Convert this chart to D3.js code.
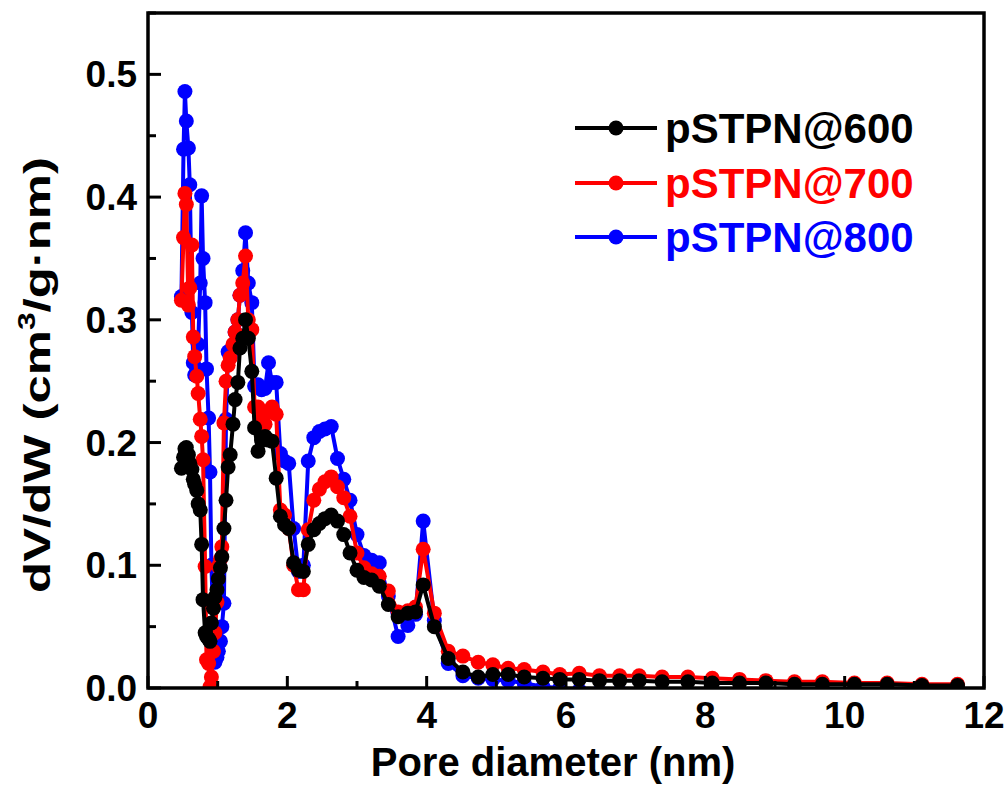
<!DOCTYPE html>
<html>
<head>
<meta charset="utf-8">
<script src="https://cdn.jsdelivr.net/npm/d3@7/dist/d3.min.js"></script>
<style>
  html, body { margin: 0; padding: 0; background: #fff; }
  svg { display: block; }
  text { font-family: "Liberation Sans", Arial, sans-serif; font-weight: bold; }
</style>
</head>
<body>
<svg id="chart" width="1005" height="785"></svg>
<script>
// Pore diameter grid (nm), shared by all three samples
const poreDiameter = [
  0.48, 0.51, 0.53, 0.55, 0.58, 0.60, 0.63, 0.65, 0.67, 0.70,
  0.72, 0.75, 0.77, 0.79, 0.82, 0.84, 0.87, 0.89, 0.91, 0.94,
  0.96, 0.99, 1.01, 1.04, 1.06, 1.09, 1.12, 1.15, 1.18, 1.22,
  1.25, 1.29, 1.32, 1.36, 1.40, 1.44, 1.49, 1.53, 1.58, 1.63,
  1.68, 1.73, 1.78, 1.84, 1.90, 1.96, 2.02, 2.09, 2.16, 2.23,
  2.30, 2.38, 2.46, 2.54, 2.63, 2.72, 2.81, 2.90, 3.00, 3.10,
  3.21, 3.32, 3.45, 3.59, 3.73, 3.84, 3.95, 4.11, 4.31, 4.52,
  4.74, 4.95, 5.17, 5.40, 5.67, 5.91, 6.19, 6.48, 6.77, 7.05,
  7.38, 7.75, 8.10, 8.49, 8.87, 9.28, 9.68, 10.14, 10.61, 11.11,
  11.62
];

// dV/dW (cm3/g·nm)
const pstpn600 = [
  0.179, 0.188, 0.195, 0.196, 0.190, 0.183, 0.178, 0.170, 0.166, 0.161,
  0.150, 0.145, 0.117, 0.072, 0.045, 0.042, 0.040, 0.038, 0.053, 0.065,
  0.074, 0.080, 0.089, 0.098, 0.107, 0.130, 0.153, 0.180, 0.190, 0.215,
  0.235, 0.249, 0.277, 0.285, 0.300, 0.285, 0.258, 0.212, 0.193, 0.202,
  0.205, 0.202, 0.201, 0.171, 0.140, 0.133, 0.130, 0.102, 0.096, 0.095,
  0.117, 0.129, 0.134, 0.138, 0.141, 0.136, 0.125, 0.110, 0.096, 0.090,
  0.088, 0.083, 0.068, 0.058, 0.061, 0.062, 0.084, 0.050, 0.024, 0.013,
  0.009, 0.011, 0.011, 0.009, 0.008, 0.007, 0.007, 0.006, 0.006, 0.006,
  0.005, 0.005, 0.004, 0.004, 0.004, 0.003, 0.003, 0.003, 0.003, 0.002,
  0.002
];

const pstpn700 = [
  0.316, 0.367, 0.403, 0.394, 0.312, 0.326, 0.361, 0.286, 0.270, 0.254,
  0.240, 0.219, 0.205, 0.186, 0.099, 0.023, 0.020, 0.001, 0.009, 0.030,
  0.045, 0.070, 0.099, 0.105, 0.115, 0.216, 0.250, 0.263, 0.269, 0.280,
  0.290, 0.300, 0.320, 0.330, 0.352, 0.300, 0.292, 0.229, 0.229, 0.220,
  0.215, 0.225, 0.229, 0.223, 0.145, 0.141, 0.130, 0.100, 0.080, 0.080,
  0.129, 0.153, 0.162, 0.168, 0.172, 0.164, 0.155, 0.140, 0.110, 0.098,
  0.093, 0.091, 0.079, 0.062, 0.063, 0.066, 0.113, 0.061, 0.030, 0.026,
  0.021, 0.019, 0.016, 0.015, 0.013, 0.011, 0.012, 0.010, 0.010, 0.010,
  0.009, 0.009, 0.008, 0.007, 0.006, 0.005, 0.005, 0.004, 0.004, 0.003,
  0.003
];

const pstpn800 = [
  0.319, 0.439, 0.486, 0.462, 0.440, 0.410, 0.306, 0.265, 0.255, 0.260,
  0.280, 0.330, 0.401, 0.350, 0.314, 0.260, 0.220, 0.176, 0.100, 0.050,
  0.021, 0.025, 0.030, 0.038, 0.050, 0.069, 0.219, 0.274, 0.270, 0.275,
  0.290, 0.300, 0.320, 0.340, 0.371, 0.330, 0.314, 0.246, 0.247, 0.243,
  0.244, 0.265, 0.249, 0.249, 0.191, 0.185, 0.183, 0.130, 0.095, 0.100,
  0.185, 0.204, 0.209, 0.211, 0.213, 0.187, 0.170, 0.153, 0.125, 0.108,
  0.104, 0.102, 0.075, 0.042, 0.051, 0.060, 0.136, 0.055, 0.020, 0.010,
  0.008, 0.007, 0.006, 0.004, 0.001, 0.000, -0.002, -0.003, -0.003, -0.004,
  -0.004, -0.004, -0.005, -0.005, -0.005, -0.005, -0.005, -0.005, -0.005, -0.005,
  -0.005
];

const seriesNames = ["pSTPN@600", "pSTPN@700", "pSTPN@800"];
const seriesColors = ["#000000", "#ff0000", "#0000ff"];
const seriesValues = [pstpn600, pstpn700, pstpn800];

const xTicks = [0, 2, 4, 6, 8, 10, 12];
const yTicks = [0.0, 0.1, 0.2, 0.3, 0.4, 0.5];

const svg = d3.select("#chart");
const plotL = 148, plotR = 984, plotT = 13, plotB = 688;

const x = d3.scaleLinear().domain([0, 12]).range([plotL, plotR]);
const y = d3.scaleLinear().domain([0, 0.55]).range([plotB, plotT]);

// Clip region for the data
svg.append("defs").append("clipPath").attr("id", "plotClip")
  .append("rect").attr("x", plotL).attr("y", plotT)
  .attr("width", plotR - plotL).attr("height", plotB - plotT);

const dataLayer = svg.append("g").attr("clip-path", "url(#plotClip)");

const line = d3.line().x(d => x(d[0])).y(d => y(d[1]));

// Draw blue first, then red, then black on top
[2, 1, 0].forEach(i => {
  const pts = poreDiameter.map((d, k) => [d, seriesValues[i][k]]);
  const g = dataLayer.append("g");
  g.append("path").datum(pts)
    .attr("d", line)
    .attr("fill", "none")
    .attr("stroke", seriesColors[i])
    .attr("stroke-width", 4)
    .attr("stroke-linejoin", "round");
  g.selectAll("circle").data(pts).join("circle")
    .attr("cx", d => x(d[0]))
    .attr("cy", d => y(d[1]))
    .attr("r", 7.5)
    .attr("fill", seriesColors[i]);
});

const axisG = svg.append("g");

// major / minor x ticks, pointing inward
x.ticks(12).forEach(v => {
  const len = v % 2 === 0 ? 12 : 7;
  axisG.append("line")
    .attr("x1", x(v)).attr("x2", x(v))
    .attr("y1", plotB).attr("y2", plotB - len)
    .attr("stroke", "#000").attr("stroke-width", 3);
});
// major / minor y ticks, pointing inward
d3.range(0, 0.551, 0.05).forEach((v, k) => {
  const len = k % 2 === 0 ? 13 : 8;
  axisG.append("line")
    .attr("x1", plotL).attr("x2", plotL + len)
    .attr("y1", y(v)).attr("y2", y(v))
    .attr("stroke", "#000").attr("stroke-width", 3);
});

// Frame
svg.append("rect")
  .attr("x", plotL).attr("y", plotT)
  .attr("width", plotR - plotL).attr("height", plotB - plotT)
  .attr("fill", "none").attr("stroke", "#000").attr("stroke-width", 3.5);

// Tick labels
svg.append("g").selectAll("text").data(xTicks).join("text")
  .attr("x", d => x(d)).attr("y", 728)
  .attr("text-anchor", "middle")
  .attr("font-size", 37)
  .text(d => d);

svg.append("g").selectAll("text").data(yTicks).join("text")
  .attr("x", 137).attr("y", d => y(d) + 13)
  .attr("text-anchor", "end")
  .attr("font-size", 37)
  .text(d => d3.format(".1f")(d));

// Axis titles
svg.append("text")
  .attr("x", 553).attr("y", 776)
  .attr("text-anchor", "middle")
  .attr("font-size", 40)
  .text("Pore diameter (nm)");

// Y title: stretched along its length to span the axis
const yTitle = svg.append("text")
  .attr("text-anchor", "middle")
  .attr("font-size", 37);
yTitle.append("tspan").text("dV/dW (cm");
yTitle.append("tspan").attr("font-size", 23).attr("dy", -15).text("3");
yTitle.append("tspan").attr("dy", 15).text("/g·nm)");
const titleLen = yTitle.node().getComputedTextLength();
const stretch = 436 / titleLen;
yTitle.attr("transform", `translate(50,375) rotate(-90) scale(${stretch},1)`);

// Legend
const legendY = [128, 183, 237];
seriesNames.forEach((name, i) => {
  const g = svg.append("g");
  g.append("line")
    .attr("x1", 575).attr("x2", 657)
    .attr("y1", legendY[i]).attr("y2", legendY[i])
    .attr("stroke", seriesColors[i]).attr("stroke-width", 4);
  g.append("circle")
    .attr("cx", 616).attr("cy", legendY[i]).attr("r", 7.5)
    .attr("fill", seriesColors[i]);
  g.append("text")
    .attr("x", 665).attr("y", legendY[i] + 15)
    .attr("font-size", 42)
    .attr("fill", seriesColors[i])
    .text(name);
});
</script>
</body>
</html>
